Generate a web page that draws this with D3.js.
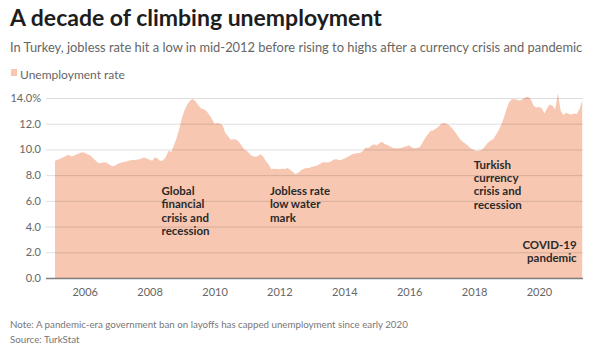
<!DOCTYPE html>
<html>
<head>
<meta charset="utf-8">
<script src="https://cdn.jsdelivr.net/npm/d3@7"></script>
<style>
  body { margin: 0; background: #fff; }
  svg text { font-family: "Source Sans Pro", Lato, "Open Sans", sans-serif; }
</style>
</head>
<body>
<div id="container"></div>
<script>
/* CONSTANTS AND GLOBALS */
const width = 600,
  height = 364,
  margin = { top: 98, bottom: 86, left: 46, right: 17 };

// monthly jobless rate (%), first value is Feb 2005
const startMonth = new Date(2005, 1, 1);
const rates = [
  9.12, 9.2, 9.28, 9.38, 9.48, 9.58, 9.47, 9.5, 9.6, 9.7, 9.78,          // 2005
  9.75, 9.62, 9.55, 9.35, 9.15, 8.95, 8.92, 9.0, 8.98, 8.85, 8.72, 8.72, // 2006
  8.85, 8.94, 9.0, 9.05, 9.1, 9.15, 9.17, 9.2, 9.22, 9.3, 9.38, 9.3,     // 2007
  9.2, 9.12, 9.4, 9.3, 9.1, 9.15, 9.4, 9.9, 9.8, 10.3, 10.9, 11.6,       // 2008
  12.5, 13.1, 13.5, 13.8, 13.92, 13.75, 13.45, 13.2, 13.12, 13.0, 12.7, 12.4, // 2009
  12.0, 12.05, 12.0, 11.9, 11.3, 11.05, 10.75, 10.8, 10.78, 10.6, 10.3, 10.0, // 2010
  9.9, 9.65, 9.48, 9.43, 9.47, 9.62, 9.45, 9.1, 8.85, 8.45, 8.5, 8.48,   // 2011
  8.45, 8.5, 8.48, 8.55, 8.42, 8.25, 8.08, 8.18, 8.38, 8.5, 8.55, 8.55,  // 2012
  8.65, 8.7, 8.75, 8.86, 9.0, 9.0, 8.98, 9.05, 9.2, 9.25, 9.15, 9.2,     // 2013
  9.3, 9.4, 9.5, 9.62, 9.68, 9.7, 9.75, 9.9, 10.15, 10.12, 10.3, 10.4,   // 2014
  10.3, 10.48, 10.6, 10.42, 10.35, 10.22, 10.12, 10.1, 10.1, 10.12, 10.18, 10.25, // 2015
  10.32, 10.15, 10.1, 10.12, 10.2, 10.55, 10.9, 11.2, 11.45, 11.5, 11.65, 11.8,   // 2016
  12.02, 12.05, 11.97, 11.85, 11.6, 11.35, 11.05, 10.75, 10.55, 10.42, 10.22, 10.05, // 2017
  9.95, 9.88, 9.92, 10.0, 10.2, 10.5, 10.67, 10.8, 11.1, 11.45, 11.9, 12.45,     // 2018
  13.14, 13.7, 13.9, 13.9, 13.85, 13.8, 13.9, 14.05, 14.1, 13.9, 13.4, 13.27,    // 2019
  13.3, 13.2, 12.8, 13.2, 13.5, 13.4, 13.1, 14.36, 13.0, 12.65, 12.85, 12.75,    // 2020
  12.72, 12.8, 12.75, 13.15, 13.8                                               // 2021
];

const yTicks = [0, 2, 4, 6, 8, 10, 12, 14];
const yearTicks = [2006, 2008, 2010, 2012, 2014, 2016, 2018, 2020];

// annotation anchors: decimal year, value of first baseline
const notes = [
  { year: 2008.37, value: 6.45, anchor: "start", lines: ["Global", "financial", "crisis and", "recession"] },
  { year: 2011.71, value: 6.45, anchor: "start", lines: ["Jobless rate", "low water", "mark"] },
  { year: 2017.99, value: 8.5, anchor: "start", lines: ["Turkish", "currency", "crisis and", "recession"] },
  { year: 2021.16, value: 2.25, anchor: "end", lines: ["COVID-19", "pandemic"] }
];

const areaColor = "#f7c7b1";

const data = rates.map((r, i) => ({ date: d3.timeMonth.offset(startMonth, i), rate: r }));
const yearDate = y => new Date(Math.floor(y), 0, 1 + Math.round((y % 1) * 365));

// shrink/grow a text so it spans a given width
function fitWidth(sel, target) {
  const len = sel.node().getComputedTextLength();
  const size = +sel.attr("font-size");
  sel.attr("font-size", size * target / len);
}

/* SCALES */
const xScale = d3.scaleTime()
  .domain([new Date(2006, 0, 1), new Date(2020, 0, 1)])
  .range([84.7, 539]);

const yScale = d3.scaleLinear()
  .domain([0, 14])
  .range([height - margin.bottom, margin.top]);

const svg = d3.select("#container")
  .append("svg")
  .attr("width", width)
  .attr("height", height);

// header
svg.append("text")
  .attr("x", 10).attr("y", 26)
  .attr("font-size", 23).attr("font-weight", 700)
  .attr("fill", "#1d1d1d")
  .text("A decade of climbing unemployment");

const subtitle = svg.append("text")
  .attr("x", 10).attr("y", 52)
  .attr("font-size", 13.5)
  .attr("fill", "#666")
  .text("In Turkey, jobless rate hit a low in mid-2012 before rising to highs after a currency crisis and pandemic");
fitWidth(subtitle, 573);

svg.append("rect")
  .attr("x", 11).attr("y", 69).attr("width", 6).attr("height", 7)
  .attr("fill", areaColor);
svg.append("text")
  .attr("x", 20).attr("y", 78.5)
  .attr("font-size", 12)
  .attr("fill", "#666")
  .text("Unemployment rate");

/* AREA */
const area = d3.area()
  .x(d => xScale(d.date))
  .y0(yScale(0))
  .y1(d => yScale(d.rate));

svg.append("path")
  .datum(data)
  .attr("d", area)
  .attr("fill", areaColor);

/* AXES */
const yAxis = d3.axisLeft(yScale)
  .tickValues(yTicks)
  .tickSize(-(width - margin.right - margin.left))
  .tickPadding(5)
  .tickFormat(d => d === 14 ? "14.0%" : d3.format(".1f")(d));

const yAxisGroup = svg.append("g")
  .attr("transform", `translate(${margin.left}, 0)`)
  .call(yAxis);

yAxisGroup.select(".domain").remove();
yAxisGroup.selectAll(".tick line")
  .attr("stroke", "#000")
  .attr("stroke-opacity", d => d === 0 ? 0.5 : 0.13)
  .attr("stroke-width", d => d === 0 ? 1.6 : 1);
yAxisGroup.selectAll(".tick text")
  .attr("x", -5)
  .attr("font-size", 11)
  .attr("fill", "#666");

const xAxis = d3.axisBottom(xScale)
  .tickValues(yearTicks.map(y => new Date(y, 0, 1)))
  .tickSize(0)
  .tickPadding(10)
  .tickFormat(d3.timeFormat("%Y"));

const xAxisGroup = svg.append("g")
  .attr("transform", `translate(0, ${yScale(0)})`)
  .call(xAxis);

xAxisGroup.select(".domain").remove();
xAxisGroup.selectAll(".tick text")
  .attr("font-size", 11)
  .attr("fill", "#666");

/* ANNOTATIONS */
notes.forEach(n => {
  const t = svg.append("text")
    .attr("x", xScale(yearDate(n.year)))
    .attr("y", yScale(n.value))
    .attr("text-anchor", n.anchor)
    .attr("font-size", 11.5)
    .attr("font-weight", 700)
    .attr("fill", "#2a2a2a");
  t.selectAll("tspan")
    .data(n.lines)
    .join("tspan")
    .attr("x", xScale(yearDate(n.year)))
    .attr("dy", (d, i) => i === 0 ? 0 : 13.3)
    .text(d => d);
});

/* FOOTER */
const note = svg.append("text")
  .attr("x", 10).attr("y", 328)
  .attr("font-size", 10)
  .attr("fill", "#777")
  .text("Note: A pandemic-era government ban on layoffs has capped unemployment since early 2020");
fitWidth(note, 398);

svg.append("text")
  .attr("x", 10).attr("y", 343)
  .attr("font-size", 9.75)
  .attr("fill", "#777")
  .text("Source: TurkStat");
</script>
</body>
</html>
